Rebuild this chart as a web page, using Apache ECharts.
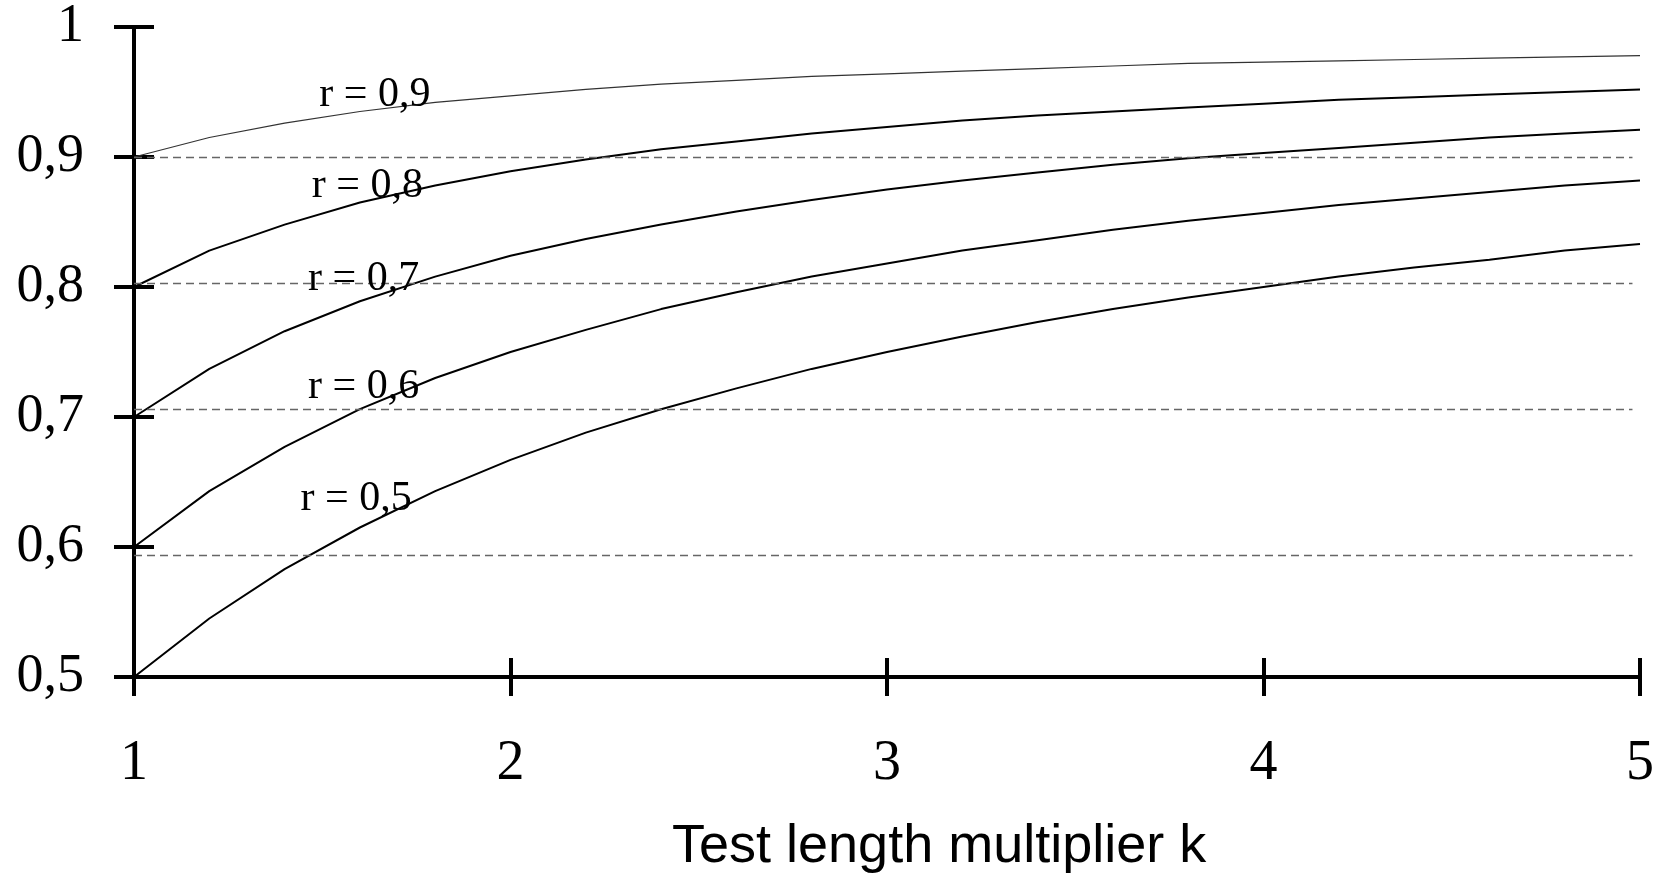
<!DOCTYPE html>
<html>
<head>
<meta charset="utf-8">
<script src="https://cdn.jsdelivr.net/npm/echarts@6/dist/echarts.min.js"></script>
<style>
    html, body { margin: 0; padding: 0; background: #fff; }
    #chart { width: 1657px; height: 877px; }
</style>
</head>
<body>
<div id="chart"></div>
<script>
// test length multiplier
var kValues = [1, 1.2, 1.4, 1.6, 1.8, 2, 2.2, 2.4, 2.6, 2.8, 3, 3.2, 3.4, 3.6, 3.8, 4, 4.2, 4.4, 4.6, 4.8, 5];
// reliability for each starting r
var r05 = [0.5, 0.545, 0.583, 0.615, 0.643, 0.667, 0.688, 0.706, 0.722, 0.737, 0.75, 0.762, 0.773, 0.783, 0.792, 0.8, 0.808, 0.815, 0.821, 0.828, 0.833];
var r06 = [0.6, 0.643, 0.677, 0.706, 0.730, 0.75, 0.767, 0.783, 0.796, 0.808, 0.818, 0.828, 0.836, 0.844, 0.851, 0.857, 0.863, 0.868, 0.873, 0.878, 0.882];
var r07 = [0.7, 0.737, 0.766, 0.789, 0.808, 0.824, 0.837, 0.848, 0.858, 0.867, 0.875, 0.882, 0.888, 0.894, 0.899, 0.903, 0.907, 0.911, 0.915, 0.918, 0.921];
var r08 = [0.8, 0.828, 0.848, 0.865, 0.878, 0.889, 0.898, 0.906, 0.912, 0.918, 0.923, 0.928, 0.932, 0.935, 0.938, 0.941, 0.944, 0.946, 0.948, 0.950, 0.952];
var r09 = [0.9, 0.915, 0.926, 0.935, 0.942, 0.947, 0.952, 0.956, 0.959, 0.962, 0.964, 0.966, 0.968, 0.970, 0.972, 0.973, 0.974, 0.975, 0.976, 0.977, 0.978];
var curveNames = ['r = 0,5', 'r = 0,6', 'r = 0,7', 'r = 0,8', 'r = 0,9'];
var xTicks = [1, 2, 3, 4, 5];
var yTicks = [0.5, 0.6, 0.7, 0.8, 0.9, 1];
// dashed reference lines (drawn slightly off the ticks in the original)
var gridValues = [0.594, 0.706, 0.803, 0.9];

var serif = 'Liberation Serif';

function pairs(ys) {
    return kValues.map(function(k, i) { return [k, ys[i]]; });
}

var myChart = echarts.init(document.getElementById('chart'), null, { renderer: 'canvas' });

// 曲线标签位置 (数据坐标)
var labelAt = [[1.59, 0.637], [1.61, 0.723], [1.61, 0.806], [1.62, 0.878], [1.64, 0.948]];

var allCurves = [r05, r06, r07, r08, r09];
var series = allCurves.map(function(ys, i) {
    return {
        name: curveNames[i],
        type: 'line',
        data: pairs(ys),
        showSymbol: false,
        symbol: 'none',
        lineStyle: { color: i === 4 ? '#333' : '#000', width: i === 4 ? 1.2 : 2 },
        z: 3,
        markPoint: {
            symbol: 'circle',
            symbolSize: 1,
            itemStyle: { color: 'transparent' },
            label: {
                show: true,
                position: 'inside',
                formatter: curveNames[i],
                fontFamily: serif,
                fontSize: 42,
                color: '#000'
            },
            data: [{ coord: labelAt[i] }]
        }
    };
});

// dashed grid lines
series.push({
    type: 'line',
    data: [],
    silent: true,
    z: 1,
    markLine: {
        symbol: 'none',
        silent: true,
        label: { show: false },
        lineStyle: { color: '#666', width: 1.3, type: [8, 5] },
        data: gridValues.map(function(v) {
            return [{ coord: [1, v] }, { coord: [4.98, v] }];
        })
    }
});

function fmt(v) {
    return String(v).replace('.', ',');
}

var baseX = {
    type: 'value', min: 1, max: 5, interval: 1,
    splitLine: { show: false }
};
var baseY = {
    type: 'value', min: 0.5, max: 1, interval: 0.1,
    splitLine: { show: false }
};

option = {
    animation: false,
    backgroundColor: '#fff',
    grid: { left: 134, right: 17, top: 23, bottom: 200 },
    xAxis: [
        Object.assign({}, baseX, {
            position: 'bottom',
            axisLine: { show: true, lineStyle: { color: '#000', width: 4 } },
            axisTick: { show: true, inside: false, length: 19, lineStyle: { color: '#000', width: 4 } },
            axisLabel: { margin: 59, fontFamily: serif, fontSize: 56, color: '#000', formatter: fmt }
        }),
        Object.assign({}, baseX, {
            position: 'bottom',
            axisLine: { show: false },
            axisTick: { show: true, inside: true, length: 19, lineStyle: { color: '#000', width: 4 } },
            axisLabel: { show: false }
        })
    ],
    yAxis: [
        Object.assign({}, baseY, {
            position: 'left',
            axisLine: { show: true, lineStyle: { color: '#000', width: 4 } },
            axisTick: { show: true, inside: false, length: 20, lineStyle: { color: '#000', width: 4 } },
            axisLabel: { margin: 50, fontFamily: serif, fontSize: 54, color: '#000', formatter: fmt }
        }),
        Object.assign({}, baseY, {
            position: 'left',
            axisLine: { show: false },
            axisTick: { show: true, inside: true, length: 20, lineStyle: { color: '#000', width: 4 } },
            axisLabel: { show: false }
        })
    ],
    graphic: [{
        type: 'text',
        left: 672,
        top: 820,
        style: {
            text: 'Test length multiplier k',
            font: '54px "Liberation Sans", Arial, sans-serif',
            fill: '#000'
        }
    }],
    series: series
};

myChart.setOption(option);
</script>
</body>
</html>
